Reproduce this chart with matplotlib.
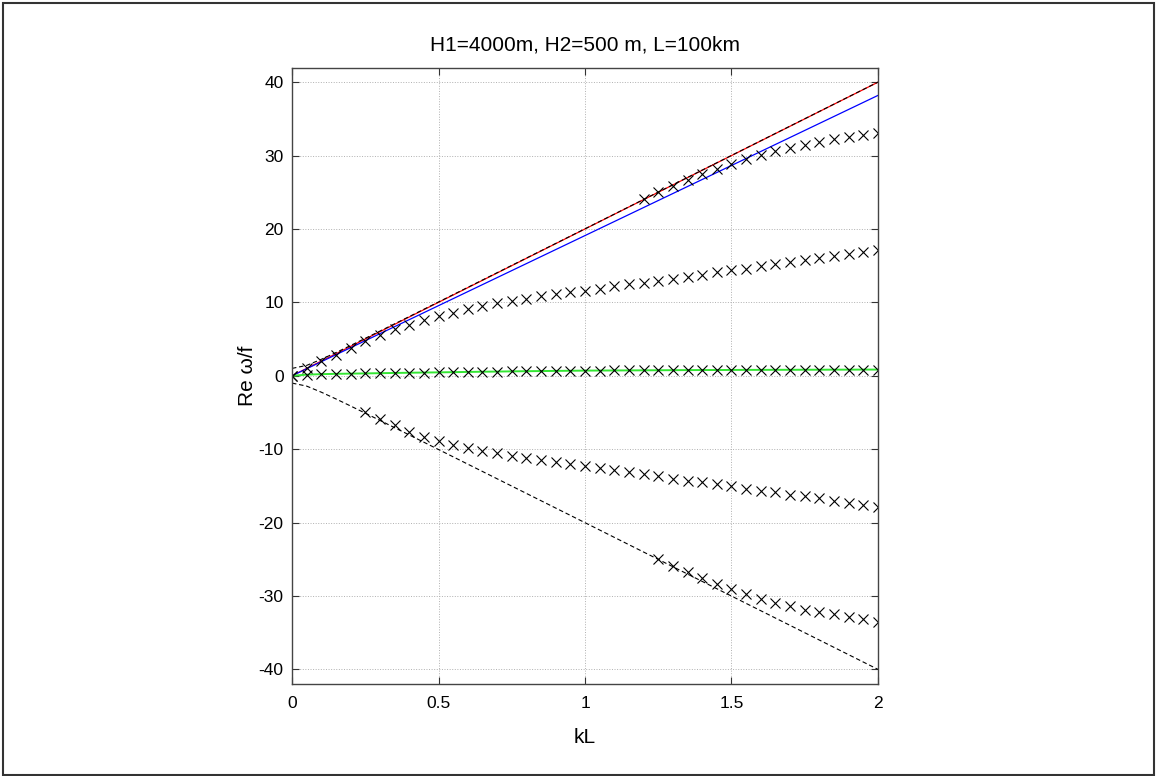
import matplotlib.pyplot as plt
from matplotlib.patches import Rectangle
import numpy as np

plt.rcParams['font.family'] = ['Liberation Sans', 'DejaVu Sans']
plt.rcParams['axes.unicode_minus'] = False

# wavenumber grid of the computed modes
kL = np.arange(41) * 0.05

# mode following the fast branch, then bending down
mode_mid = [0.0, 1.0, 2.06, 2.83, 3.78, 4.69, 5.55, 6.4, 6.95, 7.6, 8.18,
            8.6, 9.1, 9.55, 9.9, 10.2, 10.45, 10.8, 11.1, 11.4, 11.6,
            11.85, 12.2, 12.45, 12.7, 12.95, 13.2, 13.5, 13.75, 14.1, 14.35,
            14.6, 14.95, 15.2, 15.5, 15.75, 16.05, 16.35, 16.6, 16.9, 17.2]

# slow mode near zero
mode_slow = [0.0, 0.15, 0.22, 0.26, 0.29, 0.32, 0.35, 0.38, 0.41, 0.44, 0.46,
             0.49, 0.52, 0.55, 0.57, 0.6, 0.62, 0.64, 0.66, 0.68, 0.7,
             0.71, 0.72, 0.73, 0.74, 0.75, 0.76, 0.77, 0.78, 0.78, 0.79,
             0.8, 0.8, 0.81, 0.81, 0.82, 0.82, 0.83, 0.83, 0.84, 0.84]

# negative mode from kL = 0.25
kL_neg = kL[5:]
mode_neg = [-5.0, -5.9, -6.75, -7.65, -8.4, -8.9, -9.4, -9.85, -10.25, -10.55,
            -10.95, -11.25, -11.5, -11.75, -12.05, -12.3, -12.55, -12.9, -13.15, -13.4,
            -13.65, -14.0, -14.3, -14.5, -14.8, -15.05, -15.4, -15.65, -15.9, -16.2,
            -16.4, -16.7, -17.0, -17.3, -17.55, -17.85]

# upper fast mode from kL = 1.2
kL_up = kL[24:]
mode_up = [24.07, 24.97, 25.8, 26.7, 27.5, 28.15, 28.87, 29.55, 30.1, 30.6,
           31.0, 31.45, 31.8, 32.2, 32.55, 32.8, 33.1]

# lower fast mode from kL = 1.25
kL_low = kL[25:]
mode_low = [-24.95, -25.95, -26.8, -27.6, -28.4, -29.1, -29.8, -30.4, -30.9, -31.4,
            -31.85, -32.2, -32.5, -32.9, -33.2, -33.5]

# reference curves
kL_ref = [0, 0.05, 0.1, 0.15, 0.2, 0.25, 0.3, 0.4, 0.5, 1.0, 1.5, 2.0]
poincare = [1.0, 1.41, 2.24, 3.16, 4.12, 5.1, 6.08, 8.06, 10.05, 20.02, 30.02, 40.01]
kL_lin = [0, 2]
red_line = [0, 40]
blue_line = [0, 38.2]
green_line = mode_slow

fig = plt.figure(figsize=(11.58, 7.76), dpi=100)
ax = fig.add_axes([292 / 1158, 1 - 684 / 776, 586 / 1158, 616.5 / 776])

ax.plot(kL_lin, red_line, color='red', lw=0.9)
ax.plot(kL_lin, blue_line, color='blue', lw=0.9)
ax.plot(kL, green_line, color='#33e633', lw=1.4)
ax.plot(kL_ref, poincare, 'k--', lw=0.8, dashes=(4, 2.5))
ax.plot(kL_ref, -np.array(poincare), 'k--', lw=0.8, dashes=(4, 2.5))

mk = dict(ls='none', marker='x', color='black', ms=7.5, mew=0.8)
ax.plot(kL, mode_mid, **mk)
ax.plot(kL, mode_slow, **mk)
ax.plot(kL_neg, mode_neg, **mk)
ax.plot(kL_up, mode_up, **mk)
ax.plot(kL_low, mode_low, **mk)

ax.set_xlim(0, 2)
ax.set_ylim(-42, 42)
ax.set_xticks([0, 0.5, 1, 1.5, 2])
ax.set_xticklabels(['0', '0.5', '1', '1.5', '2'])
ax.set_yticks(np.arange(-40, 41, 10))
ax.grid(True, ls=':', color='#b0b0b0', lw=0.7)
ax.tick_params(direction='in', top=True, right=True, length=5, labelsize=12.5,
               color='#333333')
ax.tick_params(axis='x', pad=9)
ax.tick_params(axis='y', pad=6)
for s in ax.spines.values():
    s.set_color('#444444')
    s.set_linewidth(1.0)

ax.set_title('H1=4000m, H2=500 m, L=100km', fontsize=15, pad=12)
ax.set_xlabel('kL', fontsize=15, labelpad=12)
ax.set_ylabel('Re ω/f', fontsize=15, labelpad=1)

fig.patches.append(Rectangle((3 / 1158, 1 / 776), 1151 / 1158, 772 / 776,
                             transform=fig.transFigure, fill=False,
                             edgecolor='#333333', lw=1.5))

fig.savefig('out.png', dpi=100)
